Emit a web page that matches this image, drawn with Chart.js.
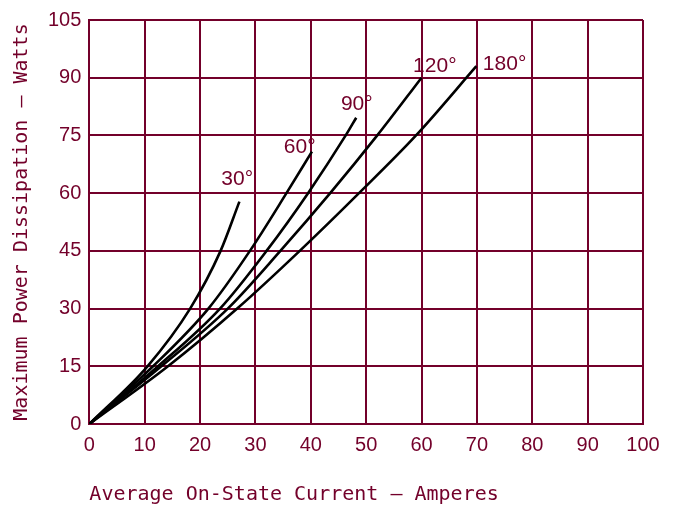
<!DOCTYPE html>
<html>
<head>
<meta charset="utf-8">
<script src="https://cdn.jsdelivr.net/npm/chart.js@4"></script>
<style>
  html, body { margin: 0; padding: 0; background: #fff; }
  #wrap { width: 681px; height: 510px; }
</style>
</head>
<body>
<div id="wrap"><canvas id="chart"></canvas></div>
<script>
'use strict';
// ---------------------- Data -----------------
const curveNames = ['30°', '60°', '90°', '120°', '180°'];
const current30 = [0, 10.5, 18.2, 23.7, 27.1];
const power30 = [0, 15, 30, 45, 57.8];
const current60 = [0, 11.5, 21.5, 29.0, 35.6, 40.2];
const power60 = [0, 15, 30, 45, 60, 70.8];
const current90 = [0, 12.4, 23.6, 32.0, 39.5, 46.3, 48.2];
const power90 = [0, 15, 30, 45, 60, 75, 79.6];
const current120 = [0, 13.0, 25.0, 34.5, 43.5, 52.0, 60];
const power120 = [0, 15, 30, 45, 60, 75, 90];
const current180 = [0, 14.2, 26.7, 38.0, 48.7, 59.0, 69.9];
const power180 = [0, 15, 30, 45, 60, 75, 93];
const xTicks = [0, 10, 20, 30, 40, 50, 60, 70, 80, 90, 100];
const yTicks = [0, 15, 30, 45, 60, 75, 90, 105];
// where each curve label sits (data units)
const labelX = [26.7, 38.0, 48.3, 62.4, 75.0];
const labelY = [63.5, 72.0, 83.0, 93.0, 93.5];

const maroon = '#73002a';

function toPoints(xs, ys) {
  const pts = [];
  for (let i = 0; i < xs.length; i++) {
    pts.push({ x: xs[i], y: ys[i] });
  }
  return pts;
}

const allCurrents = [current30, current60, current90, current120, current180];
const allPowers = [power30, power60, power90, power120, power180];
const datasets = [];
for (let i = 0; i < curveNames.length; i++) {
  datasets.push({
    label: curveNames[i],
    data: toPoints(allCurrents[i], allPowers[i]),
    borderColor: '#000',
    borderWidth: 2.6,
    pointRadius: 0,
    fill: false,
    cubicInterpolationMode: 'monotone'
  });
}

// -------------------- Curve labels plugin -----------------
const curveLabels = {
  id: 'curveLabels',
  afterDatasetsDraw(chart) {
    const ctx = chart.ctx;
    const xs = chart.scales.x;
    const ys = chart.scales.y;
    ctx.save();
    ctx.fillStyle = maroon;
    ctx.font = '21px "Liberation Sans"';
    ctx.textAlign = 'center';
    ctx.textBaseline = 'middle';
    for (let i = 0; i < curveNames.length; i++) {
      ctx.fillText(curveNames[i], xs.getPixelForValue(labelX[i]), ys.getPixelForValue(labelY[i]));
    }
    ctx.restore();
  }
};

new Chart(document.getElementById('chart').getContext('2d'), {
  type: 'line',
  data: { datasets: datasets },
  plugins: [curveLabels],
  options: {
    responsive: true,
    maintainAspectRatio: false,
    animation: false,
    layout: { padding: { top: 10, right: 38, bottom: 3, left: 10 } },
    plugins: { legend: { display: false }, tooltip: { enabled: false } },
    scales: {
      x: {
        type: 'linear',
        min: 0,
        max: 100,
        afterBuildTicks(axis) { axis.ticks = xTicks.map(v => ({ value: v })); },
        grid: { color: maroon, lineWidth: 2, drawTicks: false },
        border: { color: maroon, width: 2 },
        ticks: { color: maroon, padding: 9, maxRotation: 0, font: { family: 'Liberation Sans', size: 20 } },
        title: {
          display: true,
          align: 'start',
          text: 'Average On-State Current – Amperes',
          color: maroon,
          padding: { top: 17, bottom: 0 },
          font: { family: 'DejaVu Sans Mono', size: 20 }
        }
      },
      y: {
        type: 'linear',
        min: 0,
        max: 105,
        afterBuildTicks(axis) { axis.ticks = yTicks.map(v => ({ value: v })); },
        grid: { color: maroon, lineWidth: 2, drawTicks: false },
        border: { color: maroon, width: 2 },
        ticks: { color: maroon, padding: 8, font: { family: 'Liberation Sans', size: 20 } },
        title: {
          display: true,
          text: 'Maximum Power Dissipation – Watts',
          color: maroon,
          padding: { top: 0, bottom: 6 },
          font: { family: 'DejaVu Sans Mono', size: 20 }
        }
      }
    }
  }
});
</script>
</body>
</html>
